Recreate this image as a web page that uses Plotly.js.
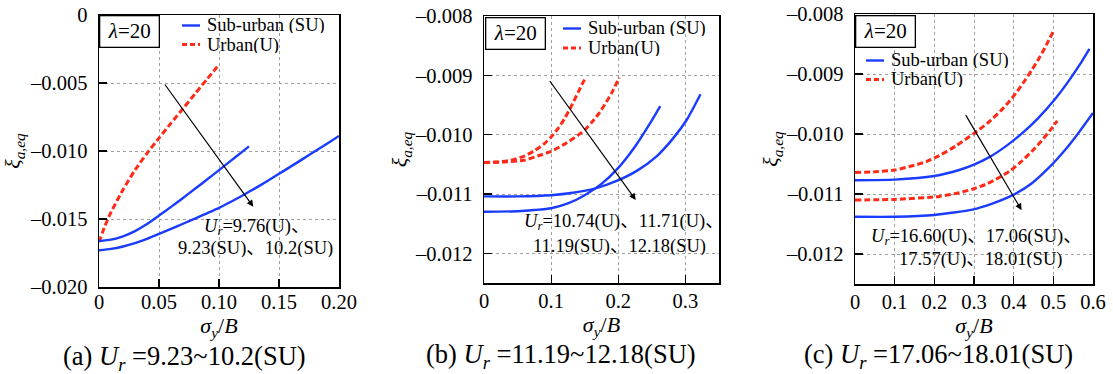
<!DOCTYPE html>
<html>
<head>
<meta charset="utf-8">
<script src="https://cdn.plot.ly/plotly-3.0.1.min.js"></script>
<style>html,body{margin:0;padding:0;background:#fff;}#chart{width:1113px;height:374px;}</style>
</head>
<body>
<div id="chart"></div>
<script>
// ---------- data: panel (a) ----------
const a_u_x   = [0, 0.005, 0.01, 0.02, 0.03, 0.04, 0.05, 0.06, 0.07, 0.08, 0.09, 0.1];
const a_u_y   = [-0.0167, -0.0155, -0.0145, -0.01285, -0.0114, -0.01017, -0.00905, -0.00795, -0.00688, -0.0058, -0.00472, -0.00365];
const a_su1_x = [0, 0.01, 0.02, 0.03, 0.04, 0.05, 0.06, 0.07, 0.08, 0.09, 0.1, 0.11, 0.12, 0.125];
const a_su1_y = [-0.01662, -0.01652, -0.01627, -0.01589, -0.01537, -0.01475, -0.01411, -0.01345, -0.01278, -0.0121, -0.01141, -0.01071, -0.01001, -0.00966];
const a_su2_x = [0, 0.01, 0.02, 0.03, 0.04, 0.05, 0.06, 0.07, 0.08, 0.09, 0.1, 0.11, 0.12, 0.13, 0.14, 0.15, 0.16, 0.17, 0.18, 0.19, 0.2];
const a_su2_y = [-0.0173, -0.0172, -0.01702, -0.01677, -0.01646, -0.0161, -0.01573, -0.01535, -0.01497, -0.01458, -0.01418, -0.01373, -0.01325, -0.01275, -0.01223, -0.01168, -0.01113, -0.01058, -0.01002, -0.00946, -0.00889];

// ---------- data: panel (b) ----------
const b_u1_x  = [0, 0.02, 0.04, 0.06, 0.075, 0.09, 0.1, 0.11, 0.12, 0.13, 0.14, 0.1515];
const b_u1_y  = [-0.01047, -0.01046, -0.01043, -0.01036, -0.01027, -0.01015, -0.01004, -0.0099, -0.00973, -0.00952, -0.00929, -0.00903];
const b_u2_x  = [0, 0.03, 0.06, 0.08, 0.1, 0.12, 0.14, 0.15, 0.16, 0.17, 0.18, 0.19, 0.2015];
const b_u2_y  = [-0.01047, -0.01046, -0.01043, -0.01036, -0.01028, -0.01016, -0.01001, -0.00992, -0.0098, -0.00966, -0.00949, -0.0093, -0.00904];
const b_su1_x = [0, 0.05, 0.075, 0.1, 0.125, 0.15, 0.175, 0.2, 0.225, 0.25, 0.2625];
const b_su1_y = [-0.0113, -0.01129, -0.01127, -0.01124, -0.01116, -0.01102, -0.01083, -0.01056, -0.0102, -0.00976, -0.00952];
const b_su2_x = [0, 0.05, 0.1, 0.1325, 0.165, 0.1975, 0.2275, 0.2575, 0.2825, 0.3025, 0.3225];
const b_su2_y = [-0.01104, -0.01104, -0.01102, -0.01098, -0.01091, -0.01078, -0.01061, -0.01036, -0.01005, -0.00974, -0.00932];

// ---------- data: panel (c) ----------
const c_u1_x  = [0, 0.05, 0.1, 0.15, 0.18, 0.2125, 0.254, 0.3, 0.3375, 0.3708, 0.391, 0.408, 0.424, 0.445, 0.462, 0.479, 0.502];
const c_u1_y  = [-0.01064, -0.01063, -0.0106, -0.01052, -0.01046, -0.01036, -0.0102, -0.00999, -0.0098, -0.00959, -0.00944, -0.0093, -0.00915, -0.00894, -0.00876, -0.00856, -0.00826];
const c_su1_x = [0, 0.1, 0.2, 0.2625, 0.3, 0.3375, 0.379, 0.421, 0.4625, 0.504, 0.534, 0.567, 0.591];
const c_su1_y = [-0.01077, -0.01076, -0.0107, -0.0106, -0.01051, -0.01039, -0.01021, -0.00999, -0.00973, -0.00942, -0.00916, -0.00884, -0.00858];
const c_u2_x  = [0, 0.1, 0.2125, 0.2625, 0.2958, 0.3292, 0.3625, 0.3917, 0.4208, 0.4458, 0.4708, 0.4917, 0.51];
const c_u2_y  = [-0.0111, -0.01109, -0.01104, -0.01098, -0.01092, -0.01084, -0.01073, -0.01061, -0.01045, -0.01029, -0.01011, -0.00994, -0.00978];
const c_su2_x = [0, 0.1, 0.2, 0.296, 0.346, 0.4, 0.446, 0.4875, 0.529, 0.5625, 0.6];
const c_su2_y = [-0.01138, -0.01138, -0.01135, -0.01126, -0.01116, -0.01101, -0.01082, -0.01057, -0.01027, -0.00999, -0.00965];

// ---------- ticks ----------
const a_xticks = [0, 0.05, 0.1, 0.15, 0.2];
const a_xlabels = ['0', '0.05', '0.10', '0.15', '0.20'];
const a_yticks = [0, -0.005, -0.01, -0.015, -0.02];
const a_ylabels = ['0', '\u20130.005', '\u20130.010', '\u20130.015', '\u20130.020'];
const b_xticks = [0, 0.1, 0.2, 0.3];
const b_xlabels = ['0', '0.1', '0.2', '0.3'];
const c_xticks = [0, 0.1, 0.2, 0.3, 0.4, 0.5, 0.6];
const c_xlabels = ['0', '0.1', '0.2', '0.3', '0.4', '0.5', '0.6'];
const bc_yticks = [-0.008, -0.009, -0.01, -0.011, -0.012];
const bc_ylabels = ['\u20130.008', '\u20130.009', '\u20130.010', '\u20130.011', '\u20130.012'];

// ---------- text ----------
const legendSU = 'Sub-urban (SU)';
const legendU = 'Urban(U)';
const lambdaText = '<i>\u03bb</i>=20';
const a_note = ['<i>U<sub>r</sub></i>=9.76(U)\u3001', '9.23(SU)\u300110.2(SU)'];
const b_note = ['<i>U<sub>r</sub></i>=10.74(U)\u300111.71(U)\u3001', '11.19(SU)\u300112.18(SU)'];
const c_note = ['<i>U<sub>r</sub></i>=16.60(U)\u300117.06(SU)\u3001', '17.57(U)\u300118.01(SU)'];
const captions = ['(a) <i>U<sub>r</sub></i> =9.23~10.2(SU)', '(b) <i>U<sub>r</sub></i> =11.19~12.18(SU)', '(c) <i>U<sub>r</sub></i> =17.06~18.01(SU)'];

// ---------- styling ----------
const F = "Liberation Serif, Times New Roman, Noto Sans CJK SC, serif";
const BLUE = '#1a3cff';
const RED = '#ff2a17';
const W = 1113, H = 374;
const PX = v => v / W;
const PY = v => 1 - v / H;

function su(x, y, xa, ya) {
  return {x: x, y: y, xaxis: xa, yaxis: ya, mode: 'lines', type: 'scatter',
    line: {color: BLUE, width: 2.4, shape: 'spline', smoothing: 0.6}, hoverinfo: 'skip', showlegend: false};
}
function ur(x, y, xa, ya) {
  return {x: x, y: y, xaxis: xa, yaxis: ya, mode: 'lines', type: 'scatter',
    line: {color: RED, width: 3, dash: '6px,3px', shape: 'spline', smoothing: 0.6}, hoverinfo: 'skip', showlegend: false};
}

const traces = [
  ur(a_u_x, a_u_y, 'x', 'y'),
  su(a_su1_x, a_su1_y, 'x', 'y'),
  su(a_su2_x, a_su2_y, 'x', 'y'),
  ur(b_u1_x, b_u1_y, 'x2', 'y2'),
  ur(b_u2_x, b_u2_y, 'x2', 'y2'),
  su(b_su1_x, b_su1_y, 'x2', 'y2'),
  su(b_su2_x, b_su2_y, 'x2', 'y2'),
  ur(c_u1_x, c_u1_y, 'x3', 'y3'),
  ur(c_u2_x, c_u2_y, 'x3', 'y3'),
  su(c_su1_x, c_su1_y, 'x3', 'y3'),
  su(c_su2_x, c_su2_y, 'x3', 'y3')
];

function axis(extra) {
  return Object.assign({
    showline: true, mirror: true, linecolor: 'black', linewidth: 1.5,
    ticks: 'inside', ticklen: 8, tickwidth: 1.2, tickcolor: 'black',
    showgrid: true, gridcolor: '#a0a0a0', griddash: 'dot', gridwidth: 1,
    zeroline: false, tickmode: 'array', fixedrange: true,
    tickfont: {family: F, size: 20.5, color: 'black'}
  }, extra);
}
function xTitle(s) { return {text: '<i>\u03c3<sub>y</sub></i>/<i>B</i>', font: {family: F, size: 22, color: 'black'}, standoff: s}; }
function yTitle(s) { return {text: '<i>\u03be<sub>a,eq</sub></i>', font: {family: F, size: 22, color: 'black'}, standoff: s}; }

const layout = {
  width: W, height: H,
  margin: {l: 0, r: 0, t: 0, b: 0},
  paper_bgcolor: 'white', plot_bgcolor: 'white',
  showlegend: false,
  font: {family: F, color: 'black'},
  xaxis:  axis({domain: [PX(99), PX(339)], range: [0, 0.2], anchor: 'y', tickvals: a_xticks, ticktext: a_xlabels, title: xTitle(0), ticklabelstandoff: -4}),
  yaxis:  axis({domain: [PY(287), PY(15)], range: [-0.02, 0], anchor: 'x', tickvals: a_yticks, ticktext: a_ylabels, title: yTitle(16), ticklabelstandoff: 6}),
  xaxis2: axis({domain: [PX(484), PX(719)], range: [0, 0.35], anchor: 'y2', tickvals: b_xticks, ticktext: b_xlabels, title: xTitle(0), ticklabelstandoff: -1}),
  yaxis2: axis({domain: [PY(283), PY(16)], range: [-0.0125, -0.008], anchor: 'x2', tickvals: bc_yticks, ticktext: bc_ylabels, title: yTitle(0), ticklabelstandoff: 6}),
  xaxis3: axis({domain: [PX(855), PX(1093)], range: [0, 0.6], anchor: 'y3', tickvals: c_xticks, ticktext: c_xlabels, title: xTitle(0), ticklabelstandoff: -1}),
  yaxis3: axis({domain: [PY(284), PY(14)], range: [-0.0125, -0.008], anchor: 'x3', tickvals: bc_yticks, ticktext: bc_ylabels, title: yTitle(0), ticklabelstandoff: 6}),
  shapes: [],
  annotations: []
};

// legends (manual), lambda boxes, notes, arrows, captions
const panels = [
  {leg: [182, 200, 206, 25.5, 44.5], lam: [99, 15], note: a_note, noteL: [[203, 227], [177, 248]],
   arrow: {xa: 'x', ya: 'y', tail: [0.054, -0.005], head: [0.1286, -0.0141]}, cap: [184, 358]},
  {leg: [563, 581, 587, 28.5, 48], lam: [485, 17], note: b_note, noteL: [[523, 222], [532, 246]],
   arrow: {xa: 'x2', ya: 'y2', tail: [0.0963, -0.00907], head: [0.226, -0.0111]}, cap: [561, 356]},
  {leg: [866, 884, 890, 60.5, 79.5], lam: [855, 15], note: c_note, noteL: [[870, 237], [898, 259]],
   arrow: {xa: 'x3', ya: 'y3', tail: [0.277, -0.00966], head: [0.42, -0.01127]}, cap: [938, 356]}
];

panels.forEach((p, i) => {
  const [x0, x1, tx, y1, y2] = p.leg;
  layout.shapes.push({type: 'line', xref: 'paper', yref: 'paper', x0: PX(x0), x1: PX(x1), y0: PY(y1), y1: PY(y1), line: {color: BLUE, width: 2.4}});
  layout.shapes.push({type: 'line', xref: 'paper', yref: 'paper', x0: PX(x0), x1: PX(x1), y0: PY(y2), y1: PY(y2), line: {color: RED, width: 3, dash: '5px,3px'}});
  layout.annotations.push({xref: 'paper', yref: 'paper', x: PX(tx), y: PY(y1), xanchor: 'left', yanchor: 'middle', height: 16, borderpad: 0, text: legendSU, showarrow: false, font: {family: F, size: 18.5, color: 'black'}});
  layout.annotations.push({xref: 'paper', yref: 'paper', x: PX(tx), y: PY(y2), xanchor: 'left', yanchor: 'middle', height: 16, borderpad: 0, text: legendU, showarrow: false, font: {family: F, size: 18.5, color: 'black'}});
  layout.annotations.push({xref: 'paper', yref: 'paper', x: PX(p.lam[0]), y: PY(p.lam[1]), xanchor: 'left', yanchor: 'top',
    text: lambdaText, showarrow: false, width: 58, height: 30, borderpad: 0, bordercolor: 'black', borderwidth: 1.3, bgcolor: 'white',
    font: {family: F, size: 21, color: 'black'}});
  p.note.forEach((t, k) => {
    layout.annotations.push({xref: 'paper', yref: 'paper', x: PX(p.noteL[k][0]), y: PY(p.noteL[k][1]), xanchor: 'left', yanchor: 'middle', height: 18, borderpad: 0,
      text: t, showarrow: false, font: {family: F, size: 18.5, color: 'black'}});
  });
  const a = p.arrow;
  layout.annotations.push({xref: a.xa, yref: a.ya, axref: a.xa, ayref: a.ya, x: a.head[0], y: a.head[1], ax: a.tail[0], ay: a.tail[1],
    text: '', showarrow: true, arrowhead: 2, arrowsize: 1.1, arrowwidth: 1.2, arrowcolor: 'black', standoff: 0});
  layout.annotations.push({xref: 'paper', yref: 'paper', x: PX(p.cap[0]), y: PY(p.cap[1]), xanchor: 'center', yanchor: 'middle', height: 26, borderpad: 0,
    text: captions[i], showarrow: false, font: {family: F, size: 26.5, color: 'black'}});
});

Plotly.newPlot('chart', traces, layout, {displayModeBar: false, staticPlot: true});
</script>
</body>
</html>
